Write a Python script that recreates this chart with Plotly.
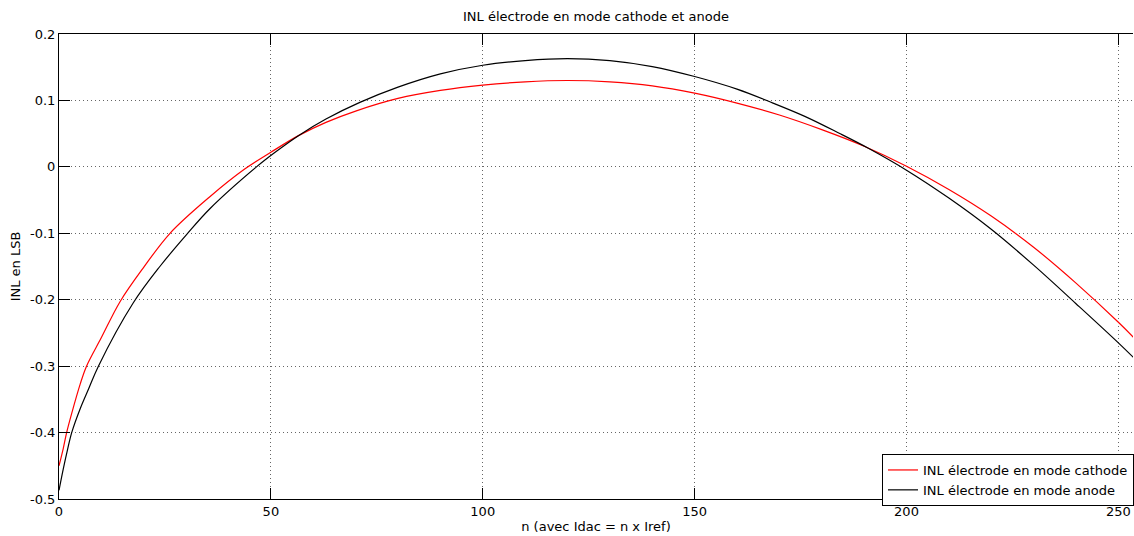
import plotly.graph_objects as go

# Data (n, INL in LSB)
n_cathode = [0, 1, 1.8, 3, 5, 6.5, 10, 14.4, 19.9, 26.2, 35.6, 43.9, 50, 56.5, 63, 70, 80, 90, 100,
             110, 120, 130, 140, 150, 160, 170, 180, 190, 200, 210, 220, 230, 240, 250, 255]
inl_cathode = [-0.450, -0.424, -0.400, -0.371, -0.327, -0.300, -0.257, -0.203, -0.152, -0.100,
               -0.045, -0.003, 0.022, 0.047, 0.067, 0.084, 0.103, 0.115, 0.123,
               0.128, 0.130, 0.128, 0.122, 0.111, 0.096, 0.078, 0.056, 0.031, 0.001,
               -0.034, -0.074, -0.121, -0.175, -0.234, -0.266]

n_anode = [0, 1, 2, 3, 5, 7, 9.3, 17.5, 23.8, 30.1, 35.6, 46.6, 51, 56.5, 63, 71, 80, 90, 100,
           110, 120, 130, 140, 150, 160, 168.5, 176, 184, 191, 200, 210, 220, 230, 240, 250, 255]
inl_anode = [-0.487, -0.455, -0.426, -0.400, -0.364, -0.334, -0.300, -0.205, -0.150, -0.102,
             -0.063, 0.000, 0.022, 0.047, 0.072, 0.097, 0.120, 0.140, 0.153,
             0.160, 0.163, 0.160, 0.151, 0.136, 0.117, 0.096, 0.076, 0.051, 0.028,
             -0.005, -0.047, -0.094, -0.148, -0.206, -0.265, -0.296]

x_ticks = [0, 50, 100, 150, 200, 250]
y_ticks = [0.2, 0.1, 0, -0.1, -0.2, -0.3, -0.4, -0.5]
y_labels = ["0.2", "0.1", "0", "-0.1", "-0.2", "-0.3", "-0.4", "-0.5"]

FONT = "DejaVu Sans"

fig = go.Figure()
fig.add_trace(go.Scatter(x=n_cathode, y=inl_cathode, mode="lines",
                         line=dict(color="#ff0000", width=1.2, shape="spline", smoothing=1.0),
                         name="INL électrode en mode cathode"))
fig.add_trace(go.Scatter(x=n_anode, y=inl_anode, mode="lines",
                         line=dict(color="#000000", width=1.2, shape="spline", smoothing=1.0),
                         name="INL électrode en mode anode"))

fig.update_layout(
    width=1134, height=536,
    margin=dict(l=59, r=0, t=34, b=37),
    paper_bgcolor="white", plot_bgcolor="white",
    font=dict(family=FONT, size=13, color="black"),
    title=dict(text="INL électrode en mode cathode et anode", x=0.5, xref="paper",
               xanchor="center", y=1, yref="container", yanchor="top", pad=dict(t=12),
               font=dict(family=FONT, size=13, color="black")),
    showlegend=True,
    legend=dict(x=(883 - 59) / 1075, xanchor="left", y=(499 - 454) / 465, yanchor="top",
                bgcolor="white", bordercolor="black", borderwidth=1,
                font=dict(family=FONT, size=13, color="black"),
                itemwidth=30, tracegroupgap=0),
)

fig.update_xaxes(
    range=[0, 253.45], tickvals=x_ticks, ticktext=[str(v) for v in x_ticks],
    showline=True, linecolor="black", linewidth=1, mirror="ticks",
    ticks="inside", ticklen=11, tickcolor="black", tickwidth=1,
    showgrid=True, gridcolor="#666666", gridwidth=1, griddash="1px,3px",
    zeroline=False,
    title=dict(text="n (avec Idac = n x Iref)", standoff=4, font=dict(family=FONT, size=13)),
)
fig.update_yaxes(
    range=[-0.5, 0.2], tickvals=y_ticks, ticktext=y_labels,
    showline=True, linecolor="black", linewidth=1, mirror=False,
    ticks="inside", ticklen=11, tickcolor="black", tickwidth=1,
    showgrid=True, gridcolor="#666666", gridwidth=1, griddash="1px,3px",
    zeroline=False,
    title=dict(text="INL en LSB", standoff=6, font=dict(family=FONT, size=13)),
)

fig.write_html("out.html")
